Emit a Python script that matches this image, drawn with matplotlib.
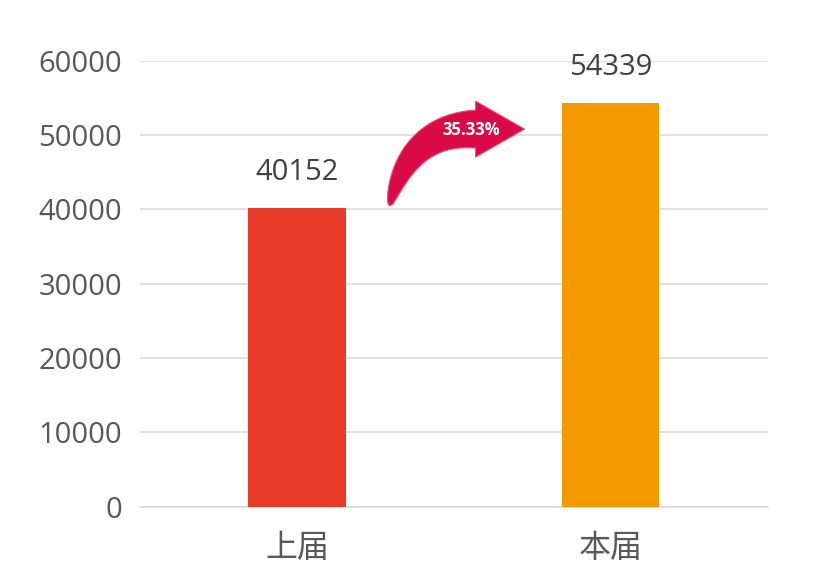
import numpy as np
import matplotlib
matplotlib.use("Agg")
import matplotlib.pyplot as plt
from matplotlib.patches import Polygon
from matplotlib.transforms import IdentityTransform

# data
categories = ["上届", "本届"]
values = [40152, 54339]
growth_label = "35.33%"
yticks = [0, 10000, 20000, 30000, 40000, 50000, 60000]
bar_colors = ["#E83A28", "#F29A00"]

plt.rcParams["font.family"] = ["Open Sans", "Noto Sans CJK SC", "DejaVu Sans"]

fig = plt.figure(figsize=(8.15, 5.72), dpi=100)
ax = fig.add_axes([0.172, 0.114, 0.770, 0.780])

x = list(range(len(categories)))
bar_w = 0.31
ax.bar(x, values, width=bar_w, color=bar_colors, zorder=3)

for xi, v in zip(x, values):
    ax.annotate(str(v), (xi, v), xytext=(0, 15), textcoords="offset points",
                ha="center", va="bottom", fontsize=21, color="#404040")

ax.set_xlim(-0.5, 1.5)
ax.set_ylim(0, 60000)
ax.set_yticks(yticks)
ax.set_yticklabels([str(t) for t in yticks], fontsize=21, color="#595959")
ax.set_xticks(x)
ax.set_xticklabels(categories, fontsize=23, color="#595959",
                   family=["Noto Sans CJK SC", "DejaVu Sans"])
ax.tick_params(length=0)
ax.tick_params(axis="y", pad=13)
ax.tick_params(axis="x", pad=18)

ax.grid(axis="y", color="#D9D9D9", linewidth=1.1, zorder=0)
for s in ["top", "right", "left"]:
    ax.spines[s].set_visible(False)
ax.spines["bottom"].set_color("#D9D9D9")
ax.spines["bottom"].set_linewidth(1.1)

# curved growth arrow between the bars, built in pixel space
start = (x[0] + bar_w / 2 + 0.14, values[0] + 300)
end = (x[1] - bar_w / 2 - 0.12, values[0] + 0.75 * (values[1] - values[0]))
p0 = ax.transData.transform(start)
tip = ax.transData.transform(end)
head_len, head_half, tail_w = 49.0, 28.0, 38.0
hb = tip - np.array([head_len, 0.0])
ctrl = np.array([p0[0] + 0.22 * (hb[0] - p0[0]), hb[1]])

t = np.linspace(0, 1, 80)[:, None]
curve = (1 - t) ** 2 * p0 + 2 * (1 - t) * t * ctrl + t ** 2 * hb
deriv = 2 * (1 - t) * (ctrl - p0) + 2 * t * (hb - ctrl)
norm = np.column_stack([-deriv[:, 1], deriv[:, 0]])
norm /= np.linalg.norm(norm, axis=1)[:, None]
half = 0.5 * tail_w * t ** 0.5
outer = curve + norm * half
inner = curve - norm * half
head = np.array([hb + [0, head_half], tip, hb - [0, head_half]])
pts = np.vstack([outer, head, inner[::-1]])
ax.add_patch(Polygon(pts, closed=True, transform=IdentityTransform(),
                     facecolor="#DA0A46", edgecolor="#E8507A", linewidth=0.8,
                     zorder=4, clip_on=False))
ax.text(hb[0] - 4, hb[1] - 1, growth_label, transform=IdentityTransform(),
        ha="center", va="center", fontsize=12, fontweight="bold",
        color="white", zorder=5)

fig.savefig("out.png", dpi=100)
